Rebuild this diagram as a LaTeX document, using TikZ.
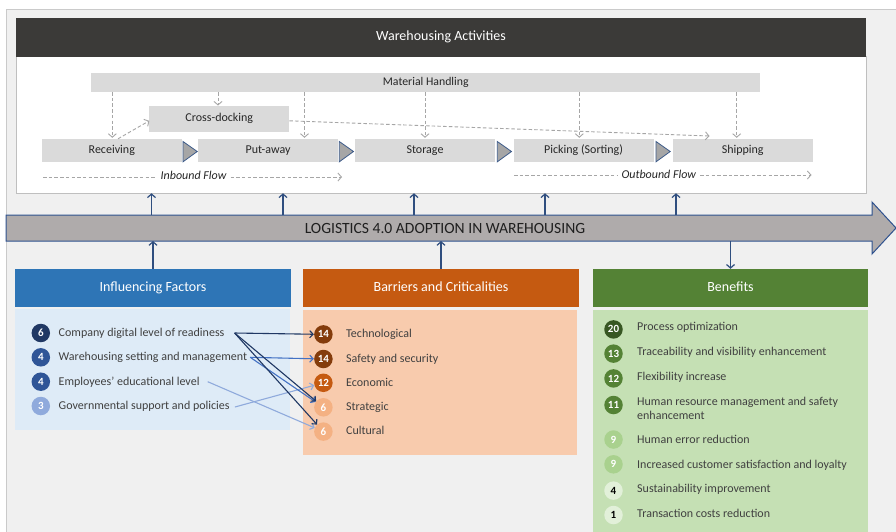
\documentclass[tikz,border=0pt]{standalone}
\usepackage{fontspec}
\setmainfont{Carlito}
\usetikzlibrary{arrows.meta}

\definecolor{canvas}{HTML}{F0F0F0}
\definecolor{framec}{HTML}{CACACA}
\definecolor{wahead}{HTML}{3B3A38}
\definecolor{panelline}{HTML}{BFBFBF}
\definecolor{procgray}{HTML}{DADADA}
\definecolor{trifill}{HTML}{A6A6A6}
\definecolor{triline}{HTML}{3E5C8A}
\definecolor{dashgray}{HTML}{A6A6A6}
\definecolor{arrowgray}{HTML}{AFABAB}
\definecolor{arrowblue}{HTML}{2F528F}
\definecolor{connblue}{HTML}{2F4E7F}
\definecolor{ifhead}{HTML}{2E75B6}
\definecolor{ifbody}{HTML}{DEEBF7}
\definecolor{brhead}{HTML}{C55A11}
\definecolor{brbody}{HTML}{F8CBAD}
\definecolor{bnhead}{HTML}{548235}
\definecolor{bnbody}{HTML}{C5E0B4}
\definecolor{txtgray}{HTML}{404040}
\definecolor{navy}{HTML}{203864}
\definecolor{midblue}{HTML}{2F5597}
\definecolor{lineblue}{HTML}{4472C4}
\definecolor{lightblue}{HTML}{8FAADC}
\definecolor{brown}{HTML}{843C0C}
\definecolor{orangec}{HTML}{C55A11}
\definecolor{peach}{HTML}{F4B183}
\definecolor{dgreen}{HTML}{385723}
\definecolor{mgreen}{HTML}{548235}
\definecolor{lgreen}{HTML}{A9D18E}
\definecolor{pgreen}{HTML}{E2F0D9}

\begin{document}
\begin{tikzpicture}[x=1pt,y=-1pt,
  box/.style={rectangle, inner sep=0pt, outer sep=0pt},
  procbox/.style={box, fill=procgray, minimum width=140pt, minimum height=23pt,
    font=\fontsize{12}{14}\selectfont, text=black!85, text height=8.6pt, text depth=3pt},
  headbox/.style={box, minimum width=276pt, minimum height=38pt, text=white,
    font=\fontsize{14}{16}\selectfont, text height=10pt, text depth=3.4pt},
  flowlbl/.style={inner sep=0pt, font=\fontsize{12}{14}\selectfont\itshape, text=black!85},
  dashln/.style={draw=dashgray, line width=0.9pt, dash pattern=on 3.5pt off 2.2pt},
  dasharr/.style={dashln, -{Straight Barb[length=3.5pt,width=8pt]}},
  bluearr/.style={draw=connblue, line width=1.2pt, -{Straight Barb[length=3.5pt,width=8pt]}},
  linkarr/.style={line width=1.1pt, -{Straight Barb[length=3.5pt,width=7pt]}},
  num/.style={circle, minimum size=18.5pt, inner sep=0pt, text=white,
    font=\fontsize{11}{11}\selectfont\bfseries},
  itemtxt/.style={anchor=west, inner sep=0pt, font=\fontsize{12}{14}\selectfont, text=txtgray,
    text height=10pt, text depth=3pt},
  tri/.style={fill=trifill, draw=triline, line width=0.8pt}
]
\useasboundingbox (0,0) rectangle (896,531);

% canvas and frame
\fill[white] (0,0) rectangle (896,531);
\fill[canvas] (6,9) rectangle (900,540);
\draw[framec, line width=1pt] (6,540) -- (6,9) -- (900,9);

% ---------------- Warehousing activities panel ----------------
\node[box, fill=white, draw=panelline, line width=0.8pt, minimum width=850pt, minimum height=137pt] (wab) at (441,124.75) {};
\node[box, fill=wahead, minimum width=850pt, minimum height=39pt, text=white,
  font=\fontsize{14}{16}\selectfont, text height=10pt, text depth=3.4pt] (wah) at (441,37) {Warehousing Activities};

\node[box, fill=procgray, minimum width=669pt, minimum height=19pt,
  font=\fontsize{11.8}{13}\selectfont, text=black!85, text height=8.5pt, text depth=3pt] (mh) at (425.75,82.5) {Material Handling};
\node[box, fill=procgray, minimum width=140pt, minimum height=25.5pt,
  font=\fontsize{12}{14}\selectfont, text=black!85, text height=8.6pt, text depth=3pt] (cd) at (219.3,118.8) {Cross-docking};

\node[procbox] (rec)  at (111.8,150.8) {Receiving};
\node[procbox] (put)  at (268,150.8) {Put-away};
\node[procbox] (sto)  at (425,150.8) {Storage};
\node[procbox] (pick) at (583.6,150.8) {Picking (Sorting)};
\node[procbox] (ship) at (742.7,150.8) {Shipping};

% chevrons between process steps
\foreach \tx in {183,339.3,497.3,656}{
  \filldraw[tri] (\tx,141.5) -- (\tx+14.2,151.5) -- (\tx,161.8) -- cycle;
}

% material handling feeds
\draw[dasharr, shorten >=1.5pt] (mh.south -| 112.3,0) -- (rec.north -| 112.3,0);
\draw[dasharr, shorten >=0.5pt] (mh.south -| 218,0) -- (cd.north -| 218,0);
\draw[dasharr, shorten >=1.5pt] (mh.south -| 304.5,0) -- (put.north -| 304.5,0);
\draw[dasharr, shorten >=1.5pt] (mh.south -| 425,0) -- (sto.north -| 425,0);
\draw[dasharr, shorten >=1.5pt] (mh.south -| 579.3,0) -- (pick.north -| 579.3,0);
\draw[dasharr, shorten >=1.5pt] (mh.south -| 736.7,0) -- (ship.north -| 736.7,0);

% cross-docking route
\draw[dasharr] ([yshift=0.5pt]rec.north -| 118,0) -- ([yshift=-2pt]cd.west);
\coordinate (xdk) at (709.5,136);
\draw[dasharr] ([yshift=-2pt]cd.east) -- (xdk);

% inbound / outbound flows
\node[flowlbl] (inb) at (193.5,175.5) {Inbound Flow};
\coordinate (inb0) at (43,177);
\coordinate (inb1) at (342,177);
\draw[dashln] (inb0) -- ([xshift=-4pt]inb0 -| inb.west);
\draw[dasharr] ([xshift=4pt]inb1 -| inb.east) -- (inb1);

\node[flowlbl] (outb) at (658.8,174.5) {Outbound Flow};
\coordinate (outb0) at (514,175);
\coordinate (outb1) at (811.5,175);
\draw[dashln] (outb0) -- ([xshift=-4pt]outb0 -| outb.west);
\draw[dasharr] ([xshift=4pt]outb1 -| outb.east) -- (outb1);

% ---------------- Logistics 4.0 arrow ----------------
\filldraw[fill=arrowgray, draw=arrowblue, line width=1pt]
  (6,215) -- (872,215) -- (872,202) -- (896,228) -- (872,254) -- (872,241) -- (6,241) -- cycle;
\node[box, minimum width=878pt, minimum height=26pt, text=black!88,
  font=\fontsize{15.6}{17}\selectfont] (la) at (445,228) {LOGISTICS 4.0 ADOPTION IN WAREHOUSING};

\foreach \ux in {151.5,283,414,545,676}{
  \draw[bluearr] (la.north -| \ux,0) -- (wab.south -| \ux,0);
}

% ---------------- lower panels ----------------
\node[box, fill=ifbody, minimum width=275pt, minimum height=121pt] (ifb) at (152.5,369) {};
\node[box, fill=brbody, minimum width=274.5pt, minimum height=145.5pt] (brb) at (439.75,382.25) {};
\node[box, fill=bnbody, minimum width=275pt, minimum height=232pt] (bnb) at (730.5,425.5) {};

\node[headbox, fill=ifhead] (ifh) at (153,287.8) {Influencing Factors};
\node[headbox, fill=brhead] (brh) at (441,287.8) {Barriers and Criticalities};
\node[headbox, fill=bnhead, minimum width=275pt] (bnh) at (730.5,287.8) {Benefits};

\draw[bluearr] (ifh.north) -- (la.south -| ifh.north);
\draw[bluearr] (brh.north) -- (la.south -| brh.north);
\draw[bluearr] (la.south -| bnh.north) -- (bnh.north);

% influencing factors
\node[num, fill=navy]      (fc1) at (40.8,333) {6};
\node[num, fill=midblue]   (fc2) at (40.8,357.3) {4};
\node[num, fill=midblue]   (fc3) at (40.8,381.7) {4};
\node[num, fill=lightblue] (fc4) at (40.8,406) {3};
\node[itemtxt] (ft1) at (58.5,333) {Company digital level of readiness};
\node[itemtxt] (ft2) at (58.5,357.3) {Warehousing setting and management};
\node[itemtxt] (ft3) at (58.5,381.7) {Employees’ educational level};
\node[itemtxt] (ft4) at (58.5,406) {Governmental support and policies};

% barriers and criticalities
\node[num, fill=brown]   (bc1) at (323.4,334.4) {14};
\node[num, fill=brown]   (bc2) at (323.4,359) {14};
\node[num, fill=orangec] (bc3) at (323.4,382.8) {12};
\node[num, fill=peach]   (bc4) at (323.4,407.3) {6};
\node[num, fill=peach]   (bc5) at (323.4,431.6) {6};
\node[itemtxt] (bt1) at (346,334) {Technological};
\node[itemtxt] (bt2) at (346,358.5) {Safety and security};
\node[itemtxt] (bt3) at (346,382.5) {Economic};
\node[itemtxt] (bt4) at (346,407) {Strategic};
\node[itemtxt] (bt5) at (346,431.3) {Cultural};

% benefits
\node[num, fill=dgreen] (gc1) at (613.5,329.4) {20};
\node[num, fill=mgreen] (gc2) at (613.5,353.6) {13};
\node[num, fill=mgreen] (gc3) at (613.5,378.4) {12};
\node[num, fill=mgreen] (gc4) at (613.5,405) {11};
\node[num, fill=lgreen] (gc5) at (613.5,439.5) {9};
\node[num, fill=lgreen] (gc6) at (613.5,464.3) {9};
\node[num, fill=pgreen, text=black] (gc7) at (613.5,490.6) {4};
\node[num, fill=pgreen, text=black] (gc8) at (613.5,515) {1};
\node[itemtxt] (gt1) at (637,326.8) {Process optimization};
\node[itemtxt] (gt2) at (637,351.7) {Traceability and visibility enhancement};
\node[itemtxt] (gt3) at (637,376.7) {Flexibility increase};
\node[itemtxt, anchor=north west, align=left, font=\fontsize{12}{14.7}\selectfont,
  text height=, text depth=] (gt4) at (637,396.5) {Human resource management and safety\\enhancement};
\node[itemtxt] (gt5) at (637,440) {Human error reduction};
\node[itemtxt] (gt6) at (637,465) {Increased customer satisfaction and loyalty};
\node[itemtxt] (gt7) at (637,489.3) {Sustainability improvement};
\node[itemtxt] (gt8) at (637,513.5) {Transaction costs reduction};

% links from factors to barriers
\draw[linkarr, lightblue] ([xshift=8pt]ft3.east) -- (bc5);
\draw[linkarr, lightblue] ([xshift=5pt,yshift=-1pt]ft4.east) -- (bc3);
\draw[linkarr, lineblue] ([xshift=3pt]ft2.east) -- (bc2);
\draw[linkarr, lineblue] ([xshift=3pt]ft2.east) -- (bc4);
\draw[linkarr, navy] ([xshift=10pt]ft1.east) -- (bc1);
\draw[linkarr, navy] ([xshift=10pt]ft1.east) -- (bc4);
\draw[linkarr, navy] ([xshift=10pt]ft1.east) -- (bc5);
\end{tikzpicture}
\end{document}
